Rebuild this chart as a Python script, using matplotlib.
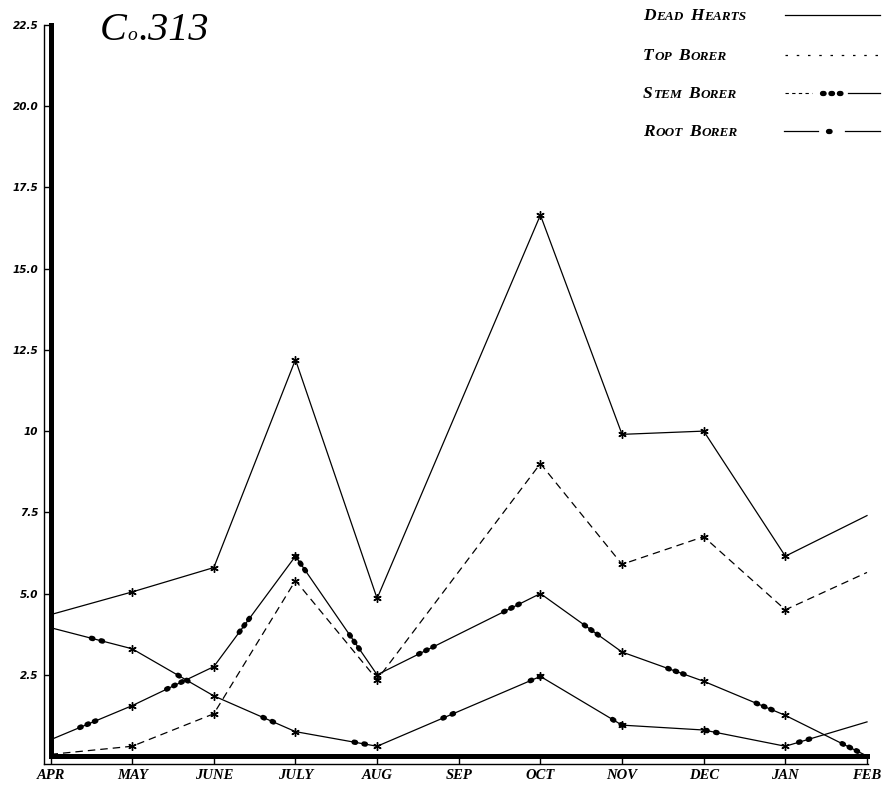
import matplotlib
matplotlib.use("Agg")
import matplotlib.pyplot as plt
from matplotlib.lines import Line2D

# Monthly survey, Co. 313 (no count was taken in SEP)
months = ["APR", "MAY", "JUNE", "JULY", "AUG", "SEP", "OCT", "NOV", "DEC", "JAN", "FEB"]
sampled = ["APR", "MAY", "JUNE", "JULY", "AUG", "OCT", "NOV", "DEC", "JAN", "FEB"]

dead_hearts = [4.35, 5.05, 5.8, 12.2, 4.85, 16.65, 9.9, 10.0, 6.15, 7.4]
top_borer = [0.05, 0.3, 1.3, 5.4, 2.35, 9.0, 5.9, 6.75, 4.5, 5.65]
stem_borer = [0.5, 1.55, 2.75, 6.15, 2.5, 5.0, 3.2, 2.3, 1.25, 0.0]
root_borer = [3.95, 3.3, 1.85, 0.75, 0.3, 2.45, 0.95, 0.8, 0.3, 1.05]

ytick_vals = [2.5, 5.0, 7.5, 10, 12.5, 15.0, 17.5, 20.0, 22.5]
ytick_text = ["2.5", "5.0", "7.5", "10", "12.5", "15.0", "17.5", "20.0", "22.5"]

W, H = 885, 789
fig = plt.figure(figsize=(W / 100, H / 100), dpi=100)
fig.patch.set_facecolor("white")


def fx(x):
    return x / W


def fy(y):
    return 1 - y / H


left, right, top, bottom = 50.5, 867, 25, 756
ax = fig.add_axes([fx(left), fy(bottom), (right - left) / W, (bottom - top) / H])
ax.set_xlim(0, len(months) - 1)
ax.set_ylim(0, 22.5)

xs = [months.index(m) for m in sampled]
star = (6, 2, 0)
marks = list(range(1, len(xs) - 1))
mk = dict(marker=star, ms=6, mew=1.0, markevery=marks)

ax.plot(xs, dead_hearts, color="black", lw=0.9, clip_on=False, **mk)
ax.plot(xs, top_borer, color="black", lw=0.9, ls=(0, (6, 4)), clip_on=False, **mk)
ax.plot(xs, stem_borer, color="black", lw=0.9, clip_on=False, **mk)
ax.plot(xs, stem_borer, color="black", lw=3.8, dash_capstyle="round",
        ls=(12, (0.3, 1.2, 0.3, 1.2, 0.3, 14.7)), clip_on=False)
ax.plot(xs, root_borer, color="black", lw=0.9, clip_on=False, **mk)
ax.plot(xs, root_borer, color="black", lw=3.8, dash_capstyle="round",
        ls=(10, (0.3, 1.6, 0.3, 15.8)), clip_on=False)

# heavy frame on the left and bottom, thin rule outside it
for side in ("top", "right"):
    ax.spines[side].set_visible(False)
for side in ("left", "bottom"):
    ax.spines[side].set_linewidth(3.6)
    ax.spines[side].set_capstyle("projecting")
fig.add_artist(Line2D([fx(44), fx(44)], [fy(25), fy(764)], color="black", lw=1.0))
fig.add_artist(Line2D([fx(44), fx(868)], [fy(764), fy(764)], color="black", lw=1.0))

ax.set_xticks(range(len(months)))
ax.set_xticklabels(months, fontfamily="Liberation Serif", fontweight="bold",
                   fontstyle="italic", fontsize=10.5)
ax.set_yticks(ytick_vals)
ax.set_yticklabels(ytick_text, fontfamily="DejaVu Sans", fontweight="bold",
                   fontstyle="italic", fontsize=7.5)
ax.tick_params(axis="x", length=5.8, width=1, pad=3.5, direction="out")
ax.tick_params(axis="y", length=4.7, width=1, pad=4, direction="out")

# title
title_kw = dict(fontfamily="Liberation Serif", fontstyle="italic", va="baseline")
renderer = fig.canvas.get_renderer()
cx = 100
for part, size in (("C", 29), ("o", 14), (".313", 29)):
    t = fig.text(fx(cx), fy(40), part, fontsize=size, **title_kw)
    cx = t.get_window_extent(renderer).x1 + 1


def caps_text(x, y, words, big=12.5, small=9.5):
    kw = dict(fontfamily="Liberation Serif", fontweight="bold", fontstyle="italic",
              va="baseline", ha="left")
    cx = x
    for i, word in enumerate(words):
        if i:
            cx += 6
        for part, size in ((word[0], big), (word[1:], small)):
            t = fig.text(fx(cx), fy(y), part, fontsize=size, **kw)
            cx = t.get_window_extent(renderer).x1 + 0.5


legend_rows = [
    (["DEAD", "HEARTS"], 20),
    (["TOP", "BORER"], 60),
    (["STEM", "BORER"], 98),
    (["ROOT", "BORER"], 136),
]
for words, y in legend_rows:
    caps_text(643, y, words)


# legend keys
def key(x0, x1, y, **kw):
    fig.add_artist(Line2D([fx(x0), fx(x1)], [fy(y), fy(y)], color="black", **kw))


key(785, 880, 15, lw=0.9)
key(785, 880, 55, lw=0.9, ls=(0, (2, 7)))
key(785, 812, 93, lw=0.8, ls=(0, (3, 3)))
key(822, 844, 93, lw=3.8, ls=(0, (0.3, 1.3)), dash_capstyle="round")
key(848, 880, 93, lw=0.9)
key(784, 818, 131, lw=0.9)
key(828, 838, 131, lw=3.8, ls=(0, (0.3, 1.6)), dash_capstyle="round")
key(845, 880, 131, lw=0.9)

fig.savefig("out.png", dpi=100)
